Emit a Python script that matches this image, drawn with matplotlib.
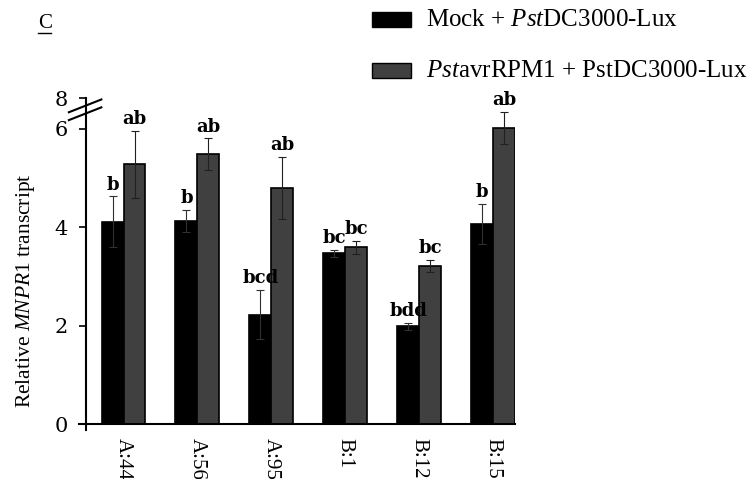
import numpy as np
import matplotlib
matplotlib.use("Agg")
import matplotlib.pyplot as plt
from matplotlib.patches import Rectangle

plt.rcParams['font.family'] = ['Liberation Serif', 'DejaVu Serif']
plt.rcParams['mathtext.fontset'] = 'custom'
plt.rcParams['mathtext.rm'] = 'Liberation Serif'
plt.rcParams['mathtext.it'] = 'Liberation Serif:italic'

# data
lines = ['A:44', 'A:56', 'A:95', 'B:1', 'B:12', 'B:15']
mock = [4.11, 4.13, 2.22, 3.47, 1.99, 4.07]
mock_err = [0.52, 0.23, 0.50, 0.07, 0.07, 0.40]
avr = [5.28, 5.49, 4.80, 3.59, 3.22, 6.02]
avr_err = [0.68, 0.32, 0.64, 0.13, 0.12, 0.32]
mock_letters = ['b', 'b', 'bcd', 'bc', 'bdd', 'b']
avr_letters = ['ab', 'ab', 'ab', 'bc', 'bc', 'ab']
y_ticks = [0, 2, 4, 6]
y_top = 6.63   # broken axis top, labelled 8

fig = plt.figure(figsize=(7.55, 4.79), dpi=100)
ax = fig.add_axes([0.1046, 0.1148, 0.5775, 0.6806])

x = np.arange(len(lines))
w = 0.297
ax.bar(x - w/2, mock, w, color='black', edgecolor='black', linewidth=1.2, zorder=2)
ax.bar(x + w/2, avr, w, color='#404040', edgecolor='black', linewidth=1.2, zorder=2)
ax.errorbar(x - w/2, mock, yerr=mock_err, fmt='none', ecolor='#303030',
            elinewidth=0.8, capsize=3, capthick=0.8, zorder=3)
ax.errorbar(x + w/2, avr, yerr=avr_err, fmt='none', ecolor='#202020',
            elinewidth=0.8, capsize=3, capthick=0.8, zorder=3)

for i in range(len(lines)):
    ax.annotate(mock_letters[i], (x[i] - w/2, mock[i] + mock_err[i]), xytext=(0, 2),
                textcoords='offset points', ha='center', va='bottom',
                fontsize=13, fontweight='bold', family='DejaVu Serif')
    ax.annotate(avr_letters[i], (x[i] + w/2, avr[i] + avr_err[i]), xytext=(0, 2),
                textcoords='offset points', ha='center', va='bottom',
                fontsize=13, fontweight='bold', family='DejaVu Serif')

ax.set_xlim(-0.603, 5 + w)
ax.set_ylim(0, y_top)
ax.spines['top'].set_visible(False)
ax.spines['right'].set_visible(False)
ax.spines['left'].set_position(('data', -0.509))
ax.spines['left'].set_linewidth(1.5)
ax.spines['bottom'].set_linewidth(1.5)

ax.set_yticks(y_ticks + [y_top])
ax.set_yticklabels([str(t) for t in y_ticks] + ['8'], fontsize=15, family='DejaVu Serif')
ax.tick_params(axis='y', length=5, width=1.2, pad=8)
ax.set_xticks(x)
ax.set_xticklabels(lines, rotation=-90, fontsize=15)
ax.tick_params(axis='x', length=0, pad=10)

# small tick below the origin
ax.plot([-0.509, -0.509], [0, -0.12], color='black', lw=1.5, clip_on=False)
# axis break marks
for dy in (0, 0.16):
    ax.plot([-0.74, -0.30], [6.18 + dy, 6.44 + dy], color='black', lw=1.5, clip_on=False)

ax.set_ylabel('Relative $\\mathit{MNPR1}$ transcript', fontsize=15.5)
ax.yaxis.set_label_coords(-0.097, 0.41)

# panel letter
fig.text(0.050, 1 - 23/479, 'C', fontsize=15, ha='left', va='center')
fig.add_artist(plt.Line2D([0.050, 0.068], [1 - 33/479, 1 - 33/479], color='black', lw=1))

# legend
fig.add_artist(Rectangle((372/755, 1 - 27/479), 39/755, 15/479, facecolor='black',
                         edgecolor='black', lw=1, transform=fig.transFigure))
fig.add_artist(Rectangle((372/755, 1 - 78/479), 39/755, 15/479, facecolor='#404040',
                         edgecolor='black', lw=1, transform=fig.transFigure))
fig.text(426/755, 1 - 20/479, 'Mock + $\\mathit{Pst}$DC3000-Lux', fontsize=18,
         ha='left', va='center')
fig.text(426/755, 1 - 71/479, '$\\mathit{Pst}$avrRPM1 + PstDC3000-Lux', fontsize=18,
         ha='left', va='center')

plt.savefig('out.png', dpi=100)
